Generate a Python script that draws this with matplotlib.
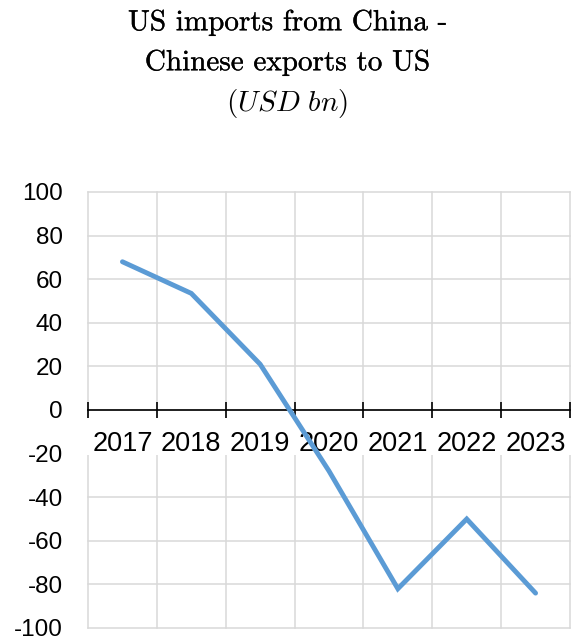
import numpy as np
import matplotlib
matplotlib.use("Agg")
import matplotlib.pyplot as plt
import matplotlib.patheffects as pe
from matplotlib.patches import Rectangle
from matplotlib.ticker import FixedLocator, NullFormatter

plt.rcParams['font.family'] = ['Liberation Sans', 'DejaVu Sans']
plt.rcParams['axes.unicode_minus'] = False
plt.rcParams['mathtext.fontset'] = 'cm'

years = ['2017', '2018', '2019', '2020', '2021', '2022', '2023']
gap = [68, 53.5, 21, -28, -82, -50, -84]   # US imports from China minus Chinese exports to US
yticks = [-100, -80, -60, -40, -20, 0, 20, 40, 60, 80, 100]

W, H = 575, 642
fig = plt.figure(figsize=(W / 100, H / 100), dpi=100)
ax = fig.add_axes([88 / W, 1 - 628 / H, (570 - 88) / W, (628 - 192) / H])

x = np.arange(len(years))
ax.plot(x, gap, color='#5B9BD5', lw=3.5, solid_capstyle='round', solid_joinstyle='miter', zorder=3)

ax.set_xlim(-0.5, len(years) - 0.5)
ax.set_ylim(-100, 100)

# category labels at centres, tick marks and vertical grid at category boundaries
bounds = np.arange(-0.5, len(years), 1.0)
ax.set_xticks(x)
ax.set_xticklabels(years)
ax.xaxis.set_minor_locator(FixedLocator(bounds))
ax.xaxis.set_minor_formatter(NullFormatter())
ax.tick_params(axis='x', which='major', length=0, pad=15, labelsize=19.5)
ax.tick_params(axis='x', which='minor', direction='inout', length=11, width=1.2, color='black')
ax.set_yticks(yticks)
ax.tick_params(axis='y', length=0, pad=18, labelsize=17.5)

for b in bounds:
    ax.axvline(b, color='#D9D9D9', lw=1.1, clip_on=False, zorder=1)
for v in yticks:
    ax.axhline(v, color='#D9D9D9', lw=1.1, clip_on=False, zorder=1)

# white strip behind the category labels
ax.add_patch(Rectangle((86 / W, 1 - 455 / H), (574 - 86) / W, (455 - 418) / H,
                       transform=fig.transFigure, facecolor='white', edgecolor='none',
                       clip_on=False, zorder=1.2))

for s in ['left', 'right', 'top']:
    ax.spines[s].set_visible(False)
ax.spines['bottom'].set_position(('data', 0))
ax.spines['bottom'].set_color('black')
ax.spines['bottom'].set_linewidth(1.2)
ax.spines['bottom'].set_zorder(2.5)

heavy = [pe.withStroke(linewidth=0.2, foreground='black')]
fig.text(0.5, 1 - 23 / H, 'US imports from China -', family='cmr10', fontsize=21,
         ha='center', va='center', path_effects=heavy)
fig.text(0.5, 1 - 63 / H, 'Chinese exports to US', family='cmr10', fontsize=21,
         ha='center', va='center', path_effects=heavy)
fig.text(0.5, 1 - 103 / H, r'$(\mathit{USD\ bn})$', fontsize=21,
         ha='center', va='center')

fig.savefig('out.png', dpi=100)
